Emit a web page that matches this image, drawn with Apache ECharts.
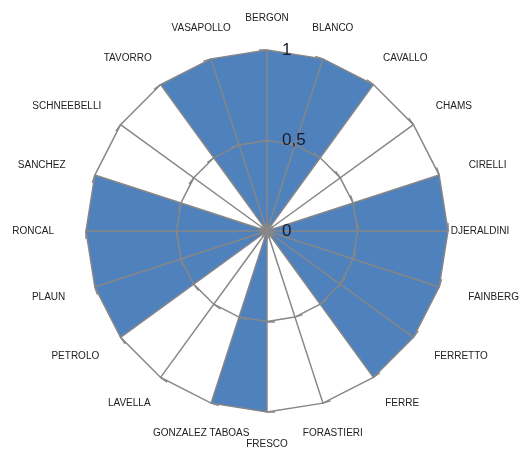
<!DOCTYPE html>
<html>
<head>
    <script src="https://cdn.jsdelivr.net/npm/echarts@6/dist/echarts.min.js"></script>
</head>
<body style="margin: 0">
<div id="container" style="height: 449px; width: 522px;"></div>
<script>

// names read clockwise from the top
var names = ['BERGON', 'BLANCO', 'CAVALLO', 'CHAMS', 'CIRELLI', 'DJERALDINI', 'FAINBERG',
    'FERRETTO', 'FERRE', 'FORASTIERI', 'FRESCO', 'GONZALEZ TABOAS', 'LAVELLA', 'PETROLO',
    'PLAUN', 'RONCAL', 'SANCHEZ', 'SCHNEEBELLI', 'TAVORRO', 'VASAPOLLO'];
var values = [1, 1, 1, 0, 1, 1, 1, 1, 1, 0, 1, 1, 0, 1, 1, 1, 1, 0, 1, 1];
var ticks = [0, 0.5, 1];

// echarts radar goes counter-clockwise, so keep the first and reverse the rest
var order = [0];
for (var i = names.length - 1; i > 0; i--) order.push(i);

var dom = document.getElementById("container");
var myChart = echarts.init(dom);

var grey = '#878787';
var nameFont = '10px "Liberation Sans"';
var cx = 267, cy = 231, R = 181, gap = 32;

// excel centres the names and pushes the side ones out by their width
var ctx = document.createElement('canvas').getContext('2d');
ctx.font = nameFont;
var rich = {};
order.forEach(function (idx) {
    var ang = idx * 2 * Math.PI / names.length;
    var s = Math.sin(ang);
    var w = ctx.measureText(names[idx]).width;
    var p = Math.abs(s) < 0.4 ? 0 : w * Math.abs(s);
    // keep the label inside the canvas (excel pulls DJERALDINI in)
    var centre = cx + (R + gap) * s + (s >= 0 ? p / 2 : -p / 2);
    if (centre + w / 2 > 520 || centre - w / 2 < 2) p = 0;
    rich['n' + idx] = {
        fontSize: 10,
        fontFamily: 'Liberation Sans',
        color: '#222',
        padding: s >= 0 ? [0, 0, 0, p] : [0, p, 0, 0]
    };
});

var option = {
    animation: false,
    radar: {
        z: 3,
        center: [cx, cy],
        radius: R,
        startAngle: 90,
        shape: 'polygon',
        splitNumber: ticks.length - 1,
        indicator: order.map(function (idx, k) {
            var ind = { name: names[idx], min: ticks[0], max: ticks[ticks.length - 1] };
            // only the first axis carries the value labels
            if (k > 0) ind.axisLabel = { show: false };
            return ind;
        }),
        axisName: {
            color: '#222',
            fontSize: 10,
            fontFamily: 'Liberation Sans',
            align: 'center',
            verticalAlign: 'middle',
            formatter: function (name) {
                return '{n' + names.indexOf(name) + '|' + name + '}';
            },
            rich: rich
        },
        nameGap: gap,
        axisLine: { lineStyle: { color: grey, width: 1.5 } },
        axisTick: { show: true, length: 8, lineStyle: { color: grey, width: 1.5 } },
        axisLabel: {
            show: true,
            color: '#1a1a2a',
            fontSize: 17,
            fontFamily: 'Liberation Sans',
            margin: -15,
            align: 'left',
            formatter: function (v) { return String(v).replace('.', ','); }
        },
        splitLine: { lineStyle: { color: grey, width: 1.5 } },
        splitArea: { show: false }
    },
    series: [{
        type: 'radar',
        z: 1,
        symbol: 'none',
        lineStyle: { width: 0 },
        areaStyle: { color: '#4f81bd', opacity: 1 },
        data: [{ value: order.map(function (idx) { return values[idx]; }) }]
    }]
};

myChart.setOption(option);

</script>
</body>
</html>
